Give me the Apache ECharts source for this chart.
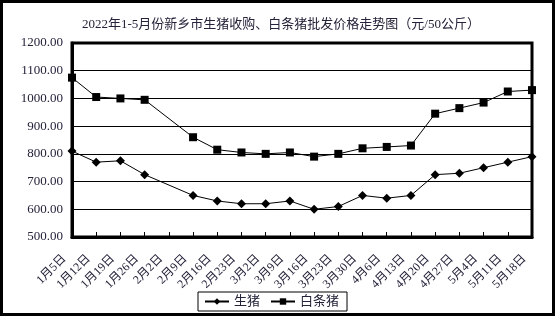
<!DOCTYPE html>
<html>
<head>
<meta charset="utf-8">
<script src="https://cdn.jsdelivr.net/npm/echarts@6/dist/echarts.min.js"></script>
<style>
  html, body { margin: 0; padding: 0; background: #fff; }
  #chart { width: 556px; height: 316px; }
</style>
</head>
<body>
<div id="chart"></div>
<script>
// 日期（2月2日无数据）
var dates = ["1月5日", "1月12日", "1月19日", "1月26日", "2月2日", "2月9日", "2月16日", "2月23日", "3月2日", "3月9日",
  "3月16日", "3月23日", "3月30日", "4月6日", "4月13日", "4月20日", "4月27日", "5月4日", "5月11日", "5月18日"];
// 生猪收购价
var livePig = [810, 770, 775, 725, null, 650, 630, 620, 620, 630,
  600, 610, 650, 640, 650, 725, 730, 750, 770, 790];
// 白条猪批发价
var whitePig = [1075, 1005, 1000, 995, null, 860, 815, 805, 800, 805,
  790, 800, 820, 825, 830, 945, 965, 985, 1025, 1030];

var textColor = "#23233a";
var fontFam = "'Liberation Serif', 'DejaVu Serif', 'Noto Sans CJK SC', serif";

var chart = echarts.init(document.getElementById("chart"));
chart.setOption({
  animation: false,
  backgroundColor: "#fff",
  title: {
    text: "2022年1-5月份新乡市生猪收购、白条猪批发价格走势图（元/50公斤）",
    left: 77,
    top: 13,
    textStyle: { fontSize: 13, fontWeight: "normal", color: textColor, fontFamily: fontFam }
  },
  graphic: [{
    type: "rect",
    shape: { x: 1.5, y: 1.5, width: 552, height: 313 },
    style: { fill: null, stroke: "#000", lineWidth: 3 },
    silent: true
  }],
  grid: {
    left: 72, right: 24, top: 43, bottom: 79,
    show: true, borderColor: "#000", borderWidth: 3
  },
  legend: {
    bottom: 5,
    left: 198,
    padding: [3, 8, 3, 6],
    borderColor: "#000",
    borderWidth: 1,
    borderRadius: 0,
    itemWidth: 24,
    itemHeight: 8,
    itemGap: 10,
    textStyle: { fontSize: 13, color: textColor, fontFamily: fontFam },
    data: ["生猪", "白条猪"]
  },
  xAxis: {
    type: "category",
    data: dates,
    boundaryGap: false,
    axisLine: { lineStyle: { color: "#000", width: 3 } },
    axisTick: { inside: true, length: 5, lineStyle: { color: "#000" } },
    axisLabel: {
      rotate: 45, interval: 0, margin: 12, fontSize: 12,
      padding: [0, 11, 0, 0],
      color: textColor, fontFamily: fontFam
    },
    splitLine: { show: false }
  },
  yAxis: {
    type: "value",
    min: 500, max: 1200, interval: 100,
    axisLine: { show: true, lineStyle: { color: "#000", width: 3 } },
    axisTick: { show: false },
    axisLabel: {
      margin: 9, fontSize: 13, color: textColor, fontFamily: fontFam,
      formatter: function (v) { return v.toFixed(2); }
    },
    splitLine: { show: true, lineStyle: { color: "#000", width: 1 } }
  },
  series: [
    {
      name: "生猪",
      type: "line",
      data: livePig,
      connectNulls: true,
      symbol: "diamond",
      symbolSize: 9,
      lineStyle: { color: "#000", width: 1 },
      itemStyle: { color: "#000" }
    },
    {
      name: "白条猪",
      type: "line",
      data: whitePig,
      connectNulls: true,
      symbol: "rect",
      symbolSize: 8,
      lineStyle: { color: "#000", width: 1 },
      itemStyle: { color: "#000" }
    }
  ]
});
</script>
</body>
</html>
